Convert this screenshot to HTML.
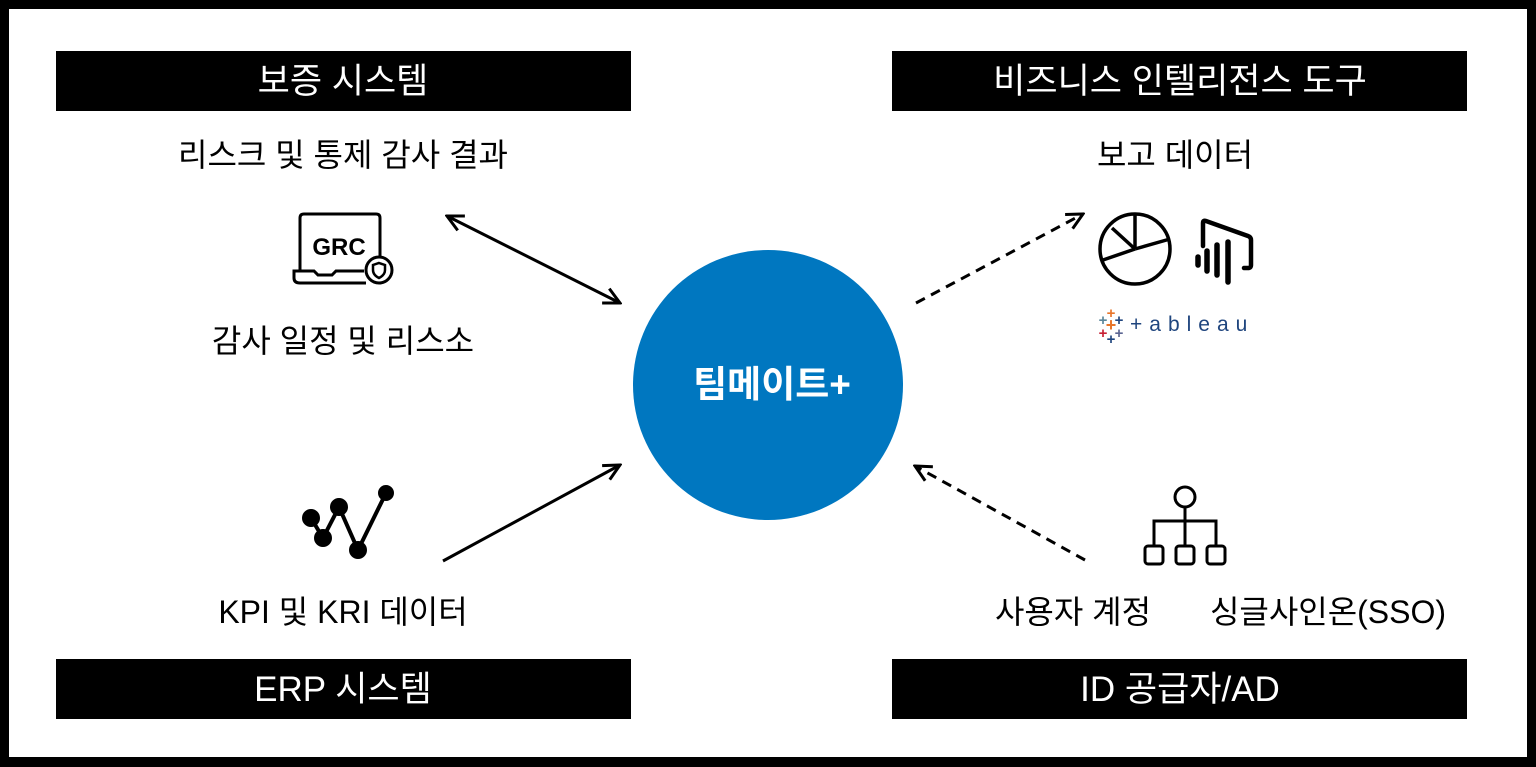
<!DOCTYPE html>
<html><head><meta charset="utf-8"><style>
html,body{margin:0;padding:0;background:#000;}
svg{display:block;}
text{font-family:"Liberation Sans","Noto Sans CJK KR",sans-serif;}
</style></head><body>
<svg width="1536" height="767" viewBox="0 0 1536 767" xmlns="http://www.w3.org/2000/svg">
<defs>
<marker id="ah" viewBox="0 0 20 20" refX="18" refY="10" markerWidth="20" markerHeight="20" markerUnits="userSpaceOnUse" orient="auto-start-reverse">
<path d="M2,2 L18,10 L2,18" fill="none" stroke="#000" stroke-width="3"/>
</marker>
</defs>
<rect x="0" y="0" width="1536" height="767" fill="#000"/>
<rect x="9" y="9" width="1518" height="748" fill="#fff"/>
<rect x="56" y="51" width="575" height="60" fill="#000"/>
<rect x="892" y="51" width="575" height="60" fill="#000"/>
<rect x="56" y="659" width="575" height="60" fill="#000"/>
<rect x="892" y="659" width="575" height="60" fill="#000"/>
<g fill="#fff" font-size="35" text-anchor="middle">
<text x="343" y="93">보증 시스템</text>
<text x="1180" y="93">비즈니스 인텔리전스 도구</text>
<text x="343" y="701">ERP 시스템</text>
<text x="1180" y="701">ID 공급자/AD</text>
</g>
<g fill="#000" font-size="32" text-anchor="middle">
<text x="343" y="166">리스크 및 통제 감사 결과</text>
<text x="343" y="352">감사 일정 및 리스소</text>
<text x="343" y="623">KPI 및 KRI 데이터</text>
<text x="1175" y="166">보고 데이터</text>
<text x="1073" y="623">사용자 계정</text>
<text x="1328" y="623">싱글사인온(SSO)</text>
</g>
<circle cx="768" cy="385" r="135" fill="#0077c0"/>
<text x="772" y="397" fill="#fff" font-size="37" font-weight="bold" text-anchor="middle">팀메이트+</text>
<g stroke="#000" stroke-width="3" fill="none">
<line x1="447" y1="216" x2="620" y2="303" marker-start="url(#ah)" marker-end="url(#ah)"/>
<line x1="443" y1="561" x2="620" y2="465" marker-end="url(#ah)"/>
<line x1="916" y1="303" x2="1083" y2="214" stroke-dasharray="10,7" marker-end="url(#ah)"/>
<line x1="1085" y1="560" x2="915" y2="466" stroke-dasharray="10,7" marker-end="url(#ah)"/>
</g>
<g stroke="#000" stroke-width="3" fill="none">
<path d="M300,271 V218 Q300,214 304,214 H376 Q380,214 380,218 V258"/>
<path d="M364,271 H336 L332,275 H318 L314,271 H294 V278 Q294,283 300,283 H366"/>
<circle cx="379" cy="270" r="13"/>
<path d="M379,263 L385,265 V270 Q385,275 379,278 Q373,275 373,270 V265 Z" stroke-width="2.5"/>
</g>
<text x="339" y="255" font-size="24" font-weight="bold" text-anchor="middle" fill="#000">GRC</text>
<g stroke="#000" stroke-width="4" fill="#000">
<polyline points="311,518 323,538 339,507 358,550 386,493" fill="none"/>
<circle cx="311" cy="518" r="7"/>
<circle cx="323" cy="538" r="7"/>
<circle cx="339" cy="507" r="7"/>
<circle cx="358" cy="550" r="7"/>
<circle cx="386" cy="493" r="6"/>
</g>
<g stroke="#000" stroke-width="3.5" fill="none">
<circle cx="1135" cy="249" r="35"/>
<line x1="1135" y1="214" x2="1135" y2="249"/>
<line x1="1135" y1="249" x2="1112" y2="228"/>
<line x1="1135" y1="249" x2="1170" y2="239"/>
<line x1="1135" y1="249" x2="1103" y2="260"/>
</g>
<g stroke="#000" fill="none" stroke-linecap="round">
<path d="M1203,246 V223 Q1203,220 1206,221 L1248,236 Q1251,237 1251,240 V265 Q1251,268 1248,268 H1244" stroke-width="4.5"/>
<line x1="1228" y1="242" x2="1228" y2="282" stroke-width="5.5"/>
<line x1="1217" y1="245" x2="1217" y2="275" stroke-width="5.5"/>
<line x1="1207" y1="251" x2="1207" y2="271" stroke-width="5.5"/>
<line x1="1198" y1="257" x2="1198" y2="265" stroke-width="5.5"/>
</g>
<g font-size="15" font-weight="bold" text-anchor="middle">
<text x="1111" y="318" fill="#e8762b">+</text>
<text x="1103" y="325" fill="#5b879b">+</text>
<text x="1119" y="325" fill="#1f457e">+</text>
<text x="1111" y="331" fill="#e8762b" font-size="18">+</text>
<text x="1103" y="338" fill="#c72035">+</text>
<text x="1119" y="338" fill="#5b6592">+</text>
<text x="1111" y="344" fill="#1f457e">+</text>
</g>
<text x="1130" y="331" font-size="21" fill="#1f457e" letter-spacing="7">+ableau</text>
<g stroke="#000" stroke-width="3" fill="none">
<circle cx="1185" cy="497" r="10"/>
<line x1="1185" y1="507" x2="1185" y2="545"/>
<polyline points="1154,545 1154,521 1216,521 1216,545"/>
<rect x="1145" y="546" width="18" height="18" rx="3"/>
<rect x="1176" y="546" width="18" height="18" rx="3"/>
<rect x="1207" y="546" width="18" height="18" rx="3"/>
</g>
</svg>
</body></html>
